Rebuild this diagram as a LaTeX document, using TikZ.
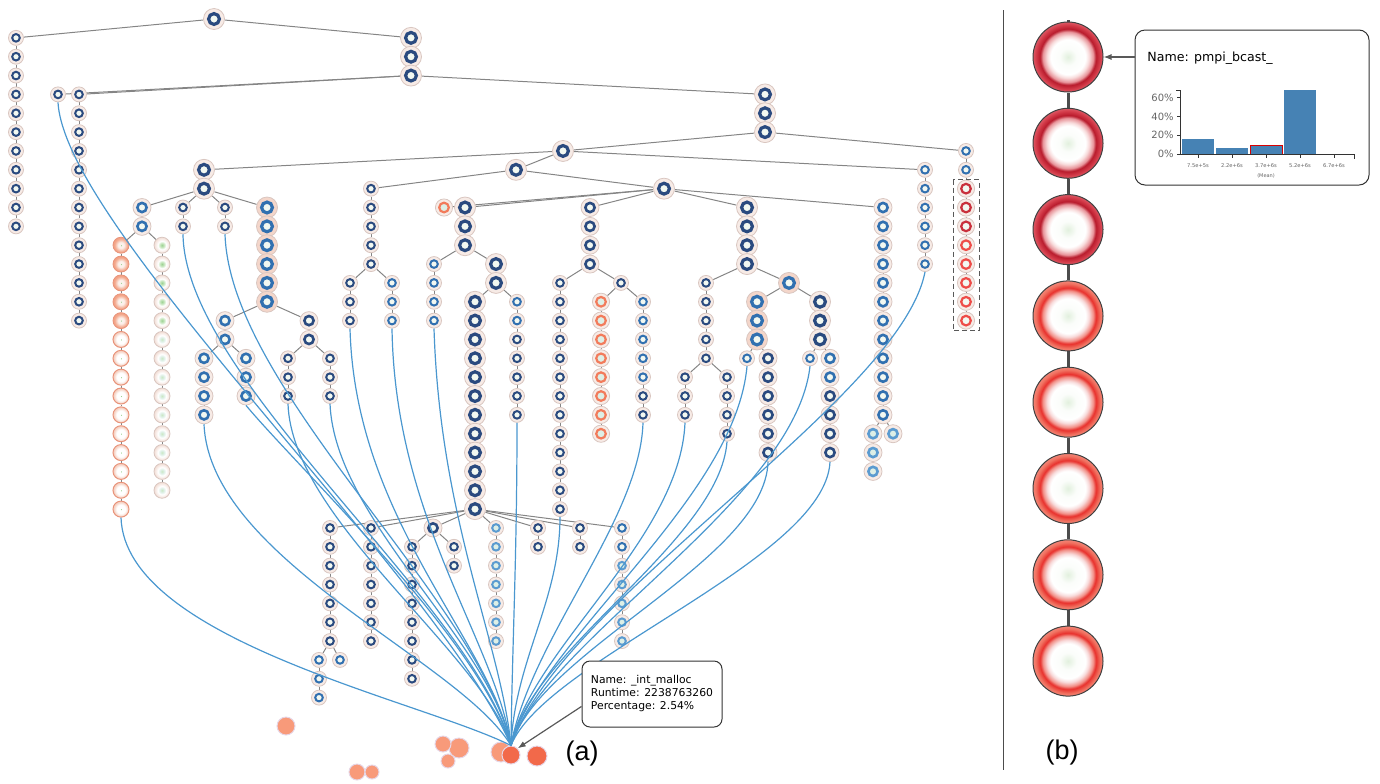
\documentclass[tikz,border=0pt]{standalone}
\usepackage{fontspec}
\setmainfont{DejaVu Sans}
\newfontfamily\lblfont{Liberation Sans}
\usetikzlibrary{arrows.meta}
\pgfdeclarelayer{back}
\pgfsetlayers{back,main}

% colours
\definecolor{navy}{HTML}{2A4A7F}
\definecolor{ringblue}{HTML}{3170B0}
\definecolor{ringlight}{HTML}{5B9BD0}
\definecolor{halo}{HTML}{F7EBE6}
\definecolor{haloline}{HTML}{D9C6C0}
\definecolor{halohot}{HTML}{F4D6CA}
\definecolor{core}{HTML}{F2F8F1}
\definecolor{corelight}{HTML}{DDEFE6}
\definecolor{ringorange}{HTML}{F27B5B}
\definecolor{reddark}{HTML}{C9303C}
\definecolor{redlite}{HTML}{EE4C48}
\definecolor{callblue}{HTML}{4A97CF}
\definecolor{edgegray}{HTML}{858585}
\definecolor{leaf}{HTML}{F89A7A}
\definecolor{leafhot}{HTML}{F2694A}
\definecolor{leafline}{HTML}{E6D6E6}
\definecolor{barblue}{HTML}{4682B4}
\definecolor{axisgray}{HTML}{666666}
\definecolor{gcore}{HTML}{9CD292}
\definecolor{ohring}{HTML}{F3A386}
\definecolor{ohin}{HTML}{FBF1EC}
\definecolor{ohedge}{HTML}{E8937A}
\definecolor{oplrim}{HTML}{F6D3C5}
\definecolor{gpmid}{HTML}{CBE8C3}
\definecolor{gprim}{HTML}{F2DDD4}
\definecolor{bctr}{HTML}{E2F0DE}
\definecolor{bpink}{HTML}{F8DCDC}
\definecolor{dkring}{HTML}{B81B2C}
\definecolor{dkmid}{HTML}{E8949A}
\definecolor{dkrim}{HTML}{D43C4A}
\definecolor{ltring}{HTML}{E8302C}
\definecolor{ltmid}{HTML}{F29088}
\definecolor{ltrim}{HTML}{F0705F}

% shadings
\pgfdeclareradialshading{ohotshade}{\pgfpoint{0bp}{0bp}}{color(0bp)=(gcore); color(3bp)=(ohin); color(9bp)=(ohin); color(21bp)=(ohring); color(25bp)=(ohring); color(50bp)=(ohring)}
\pgfdeclareradialshading{opaleshade}{\pgfpoint{0bp}{0bp}}{color(0bp)=(gcore); color(3bp)=(white); color(14bp)=(white); color(22bp)=(oplrim); color(25bp)=(oplrim); color(50bp)=(oplrim)}
\pgfdeclareradialshading{ggreenshade}{\pgfpoint{0bp}{0bp}}{color(0bp)=(gcore); color(7bp)=(gpmid); color(13bp)=(white); color(20bp)=(halo); color(25bp)=(gprim); color(50bp)=(gprim)}
\pgfdeclareradialshading{gpaleshade}{\pgfpoint{0bp}{0bp}}{color(0bp)=(gpmid); color(6bp)=(corelight); color(13bp)=(white); color(20bp)=(halo); color(25bp)=(gprim); color(50bp)=(gprim)}
\pgfdeclareradialshading{bigdark}{\pgfpoint{0bp}{0bp}}{color(0bp)=(bctr); color(6bp)=(white!85!bctr); color(12.5bp)=(white); color(15bp)=(bpink); color(18bp)=(dkmid); color(20bp)=(dkring); color(23bp)=(dkrim); color(25bp)=(dkrim!85!white); color(50bp)=(dkrim!85!white)}
\pgfdeclareradialshading{biglight}{\pgfpoint{0bp}{0bp}}{color(0bp)=(bctr); color(6bp)=(white!85!bctr); color(12.5bp)=(white); color(15bp)=(bpink); color(18bp)=(ltmid); color(20bp)=(ltring); color(23bp)=(ltrim); color(25bp)=(ltrim!85!white); color(50bp)=(ltrim!85!white)}

\tikzset{
  ringnode/.style n args={6}{circle, inner sep=0pt, minimum size=#4, fill=#6, draw=haloline, line width=0.4pt,
    path picture={\filldraw[draw=#3, fill=#5, line width=#2] (path picture bounding box.center) circle[radius=#1/2];}},
  snav/.style={ringnode={3.8pt}{1pt}{navy}{7.5pt}{core}{halo}},
  sblu/.style={ringnode={3.8pt}{1pt}{ringblue}{7.5pt}{core}{halo}},
  slbl/.style={ringnode={3.8pt}{1pt}{ringlight}{7.5pt}{corelight}{halo}},
  mnav/.style={ringnode={4.6pt}{1.3pt}{navy}{9pt}{core}{halo}},
  mblu/.style={ringnode={4.6pt}{1.3pt}{ringblue}{9pt}{core}{halo}},
  mlbl/.style={ringnode={4.6pt}{1.3pt}{ringlight}{9pt}{corelight}{halo}},
  bnav/.style={ringnode={5.4pt}{1.6pt}{navy}{10.5pt}{core}{halo}},
  bblu/.style={ringnode={5.4pt}{1.6pt}{ringblue}{10.5pt}{core}{halohot}},
  oring/.style={ringnode={4.8pt}{1.1pt}{ringorange}{8.6pt}{corelight}{halo}},
  rdark/.style={ringnode={4.8pt}{1.1pt}{reddark}{8.6pt}{core}{halo}},
  rlite/.style={ringnode={4.8pt}{1.1pt}{redlite}{8.6pt}{core}{halo}},
  ohot/.style={circle, inner sep=0pt, minimum size=8pt, shade, shading=ohotshade, draw=ohedge, line width=0.4pt},
  opale/.style={circle, inner sep=0pt, minimum size=8pt, shade, shading=opaleshade, draw=ohedge, line width=0.5pt},
  ggreen/.style={circle, inner sep=0pt, minimum size=8pt, shade, shading=ggreenshade, draw=haloline, line width=0.4pt},
  gpale/.style={circle, inner sep=0pt, minimum size=8pt, shade, shading=gpaleshade, draw=haloline, line width=0.4pt},
  link/.style={draw=edgegray, line width=0.5pt},
  call/.style={draw=callblue, line width=0.6pt},
  leafnode/.style={circle, inner sep=0pt, minimum size=#1, fill=leaf, draw=leafline, line width=0.5pt},
  hotleaf/.style={leafnode=#1, fill=leafhot},
  tipbox/.style={draw=black!80, fill=white, rounded corners=4pt, line width=0.5pt},
  tiparrow/.style={draw=black!65, line width=0.6pt, -{Latex[length=4pt,width=3pt]}},
  bigring/.style={circle, inner sep=0pt, minimum size=35pt, shade, draw=black!75, line width=0.5pt},
  spine/.style={draw=black!70, line width=1.5pt},
  histaxis/.style={draw=black!80, line width=0.5pt},
  histlbl/.style={text=axisgray, inner sep=0pt},
  selbox/.style={draw=black!65, line width=0.5pt, dash pattern=on 2.5pt off 1.5pt},
}

% a column of nodes: name, x, first row, count, how many in style A, style A, style B
\newcommand\mixcol[7]{%
  \foreach \i in {1,...,#4}{%
    \ifnum\i>#5\relax
      \node[#7] (#1-\i) at (#2,{19+(#3+\i-1)*18.85}) {};
    \else
      \node[#6] (#1-\i) at (#2,{19+(#3+\i-1)*18.85}) {};
    \fi
  }%
  \ifnum#4>1\relax
    \begin{pgfonlayer}{back}
      \pgfmathtruncatemacro\lastlink{#4-1}%
      \foreach \i in {1,...,\lastlink}{%
        \pgfmathtruncatemacro\nexti{\i+1}%
        \draw[link] (#1-\i) -- (#1-\nexti);
      }%
    \end{pgfonlayer}
  \fi
}
\newcommand\nodecol[5]{\mixcol{#1}{#2}{#3}{#4}{#4}{#5}{#5}}

\begin{document}
\begin{tikzpicture}[x=0.5pt, y=-0.5pt]
\useasboundingbox (0,0) rectangle (1380,783);

% (a) call tree
\nodecol{root}{214}{0}{1}{bnav}
\nodecol{la}{16}{1}{11}{snav}
\nodecol{ra}{411}{1}{3}{bnav}
\nodecol{lx}{58}{4}{1}{snav}
\nodecol{lc}{79}{4}{13}{snav}
\nodecol{rb}{765}{4}{3}{bnav}
\nodecol{ma}{563}{7}{1}{bnav}
\nodecol{ea}{966}{7}{2}{sblu}
\mixcol{eb}{966}{9}{8}{3}{rdark}{rlite}
\nodecol{ec}{925}{8}{6}{sblu}
\nodecol{pa}{204}{8}{2}{bnav}
\nodecol{pb}{142}{10}{2}{mblu}
\mixcol{pc}{121}{12}{15}{5}{ohot}{opale}
\mixcol{pd}{162}{12}{14}{5}{ggreen}{gpale}
\nodecol{pe}{183}{10}{2}{snav}
\nodecol{pf}{225}{10}{2}{snav}
\nodecol{pg}{267}{10}{6}{bblu}
\nodecol{ph}{225}{16}{2}{mblu}
\nodecol{pi}{204}{18}{4}{mblu}
\nodecol{pj}{246}{18}{3}{mblu}
\nodecol{pk}{309}{16}{2}{mnav}
\nodecol{pl}{288}{18}{3}{snav}
\nodecol{pm}{330}{18}{3}{snav}
\nodecol{qa}{516}{8}{1}{bnav}
\nodecol{qb}{371}{9}{5}{snav}
\nodecol{qc}{350}{14}{3}{snav}
\nodecol{qd}{392}{14}{3}{sblu}
\nodecol{qe}{664}{9}{1}{bnav}
\nodecol{qf}{444}{10}{1}{oring}
\nodecol{qg}{465}{10}{3}{bnav}
\nodecol{qh}{434}{13}{4}{sblu}
\nodecol{qi}{496}{13}{2}{bnav}
\nodecol{qj}{475}{15}{12}{bnav}
\mixcol{qk}{517}{15}{7}{2}{sblu}{snav}
\nodecol{ql}{590}{10}{4}{mnav}
\nodecol{qm}{560}{14}{13}{snav}
\nodecol{qn}{621}{14}{1}{snav}
\nodecol{qo}{601}{15}{8}{oring}
\mixcol{qp}{643}{15}{7}{5}{sblu}{snav}
\nodecol{qq}{747}{10}{4}{bnav}
\nodecol{qr}{706}{14}{5}{snav}
\nodecol{qs}{685}{19}{3}{snav}
\nodecol{qt}{727}{19}{4}{snav}
\nodecol{qu}{789}{14}{1}{bblu}
\nodecol{qv}{757}{15}{3}{bblu}
\nodecol{qw}{747}{18}{1}{sblu}
\nodecol{qx}{768}{18}{6}{mnav}
\nodecol{qy}{820}{15}{3}{bnav}
\nodecol{qz}{810}{18}{1}{sblu}
\mixcol{sa}{830}{18}{6}{2}{mblu}{mnav}
\nodecol{sb}{883}{10}{12}{mblu}
\nodecol{sc}{873}{22}{3}{mlbl}
\nodecol{sd}{893}{22}{1}{mlbl}
% lower group
\nodecol{ba}{330}{27}{7}{snav}
\nodecol{bb}{319}{34}{3}{sblu}
\nodecol{bc}{340}{34}{1}{sblu}
\nodecol{bd}{371}{27}{7}{snav}
\nodecol{be}{433}{27}{1}{mnav}
\nodecol{bf}{412}{28}{8}{snav}
\nodecol{bh}{454}{28}{2}{snav}
\nodecol{bi}{496}{27}{7}{slbl}
\nodecol{bj}{538}{27}{2}{snav}
\nodecol{bk}{580}{27}{2}{snav}
\mixcol{bl}{622}{27}{7}{2}{sblu}{slbl}

% selected chain
\draw[selbox] ([shift={(-13,-9)}]eb-1.center) rectangle ([shift={(13,10)}]eb-8.center);

\begin{pgfonlayer}{back}
\foreach \p/\c in {root-1/la-1, root-1/ra-1, ra-3/lx-1, ra-3/lc-1, ra-3/rb-1,
    rb-3/ma-1, rb-3/ea-1, ea-2/eb-1, ma-1/pa-1, ma-1/qa-1, ma-1/ec-1,
    pa-2/pb-1, pa-2/pe-1, pa-2/pf-1, pa-2/pg-1, pb-2/pc-1, pb-2/pd-1,
    pg-6/ph-1, pg-6/pk-1, ph-2/pi-1, ph-2/pj-1, pk-2/pl-1, pk-2/pm-1,
    qa-1/qb-1, qa-1/qe-1, qb-5/qc-1, qb-5/qd-1,
    qe-1/qf-1, qe-1/qg-1, qe-1/ql-1, qe-1/qq-1, qe-1/sb-1,
    qg-3/qh-1, qg-3/qi-1, qi-2/qj-1, qi-2/qk-1,
    ql-4/qm-1, ql-4/qn-1, qn-1/qo-1, qn-1/qp-1,
    qq-4/qr-1, qq-4/qu-1, qr-5/qs-1, qr-5/qt-1, qu-1/qv-1, qu-1/qy-1,
    qv-3/qw-1, qv-3/qx-1, qy-3/qz-1, qy-3/sa-1, sb-12/sc-1, sb-12/sd-1,
    qj-12/ba-1, qj-12/bd-1, qj-12/be-1, qj-12/bi-1, qj-12/bj-1, qj-12/bk-1, qj-12/bl-1,
    ba-7/bb-1, ba-7/bc-1, be-1/bf-1, be-1/bh-1}
  \draw[link] (\p) -- (\c);
\end{pgfonlayer}

% leaves at the bottom
\node[leafnode=9pt] (lf1) at (286,726) {};
\node[leafnode=10pt] (lf3) at (459,748) {};
\node[leafnode=8pt] (lf2) at (443,744) {};
\node[leafnode=7pt] (lf4) at (448,761) {};
\node[leafnode=8pt] (lf5) at (357,772) {};
\node[leafnode=7pt] (lf6) at (372,772) {};
\node[leafnode=10pt] (lf7) at (501,752) {};
\node[hotleaf=9pt] (hot) at (511,755) {};
\node[hotleaf=10pt] (lf8) at (537,756) {};
\coordinate (tgt) at (hot.north);

% calls into _int_malloc
\foreach \s/\ax/\ay/\bx/\by in {pc-15/125/640/420/700, lx-1/65/230/440/580,
    pe-2/185/380/470/600, pf-2/230/390/480/600, pi-4/210/560/460/660,
    pj-3/300/470/480/640, pl-3/292/520/480/650, pm-3/335/520/490/640,
    qc-3/355/520/490/640, qd-3/395/520/495/640, qh-4/440/520/500/640,
    qk-7/517/560/512/650, qm-13/560/600/515/660, qp-7/640/520/530/640,
    qs-3/680/540/530/650, qt-4/720/540/530/650, qw-1/735/500/540/640,
    qx-6/765/560/540/650, qz-1/795/500/545/640, sa-6/825/560/545/660,
    ec-6/900/400/560/600}
  \draw[call] (\s.south) .. controls (\ax,\ay) and (\bx,\by) .. (tgt);

% tooltip (a)
\node[tipbox, minimum width=70pt, minimum height=33pt, inner xsep=4pt,
  align=left, font=\fontsize{5.4pt}{6.5pt}\selectfont] (tipa) at (652,694)
  {Name: \_int\_malloc\\Runtime: 2238763260\\Percentage: 2.54\%};
\draw[tiparrow] (tipa.190) -- (hot.north east);
\node[font=\lblfont\fontsize{13.5pt}{14pt}\selectfont] (labela) at (582,753) {(a)};

% divider
\draw[draw=black!70, line width=0.5pt] (1003,10) -- (1003,770);

% (b) chain of pmpi_bcast_
\foreach \i in {1,...,8}{
  \ifnum\i<4
    \node[bigring, shading=bigdark] (bn-\i) at (1068,{57+(\i-1)*86.3}) {};
  \else
    \node[bigring, shading=biglight] (bn-\i) at (1068,{57+(\i-1)*86.3}) {};
  \fi
}
\coordinate (btop) at (1068,20);
\begin{pgfonlayer}{back}
  \draw[spine] (btop) -- (bn-1);
  \foreach \i [count=\j from 2] in {1,...,7}
    \draw[spine] (bn-\i) -- (bn-\j);
\end{pgfonlayer}
\node[font=\lblfont\fontsize{13.5pt}{14pt}\selectfont] (labelb) at (1062,752) {(b)};

% tooltip (b) with histogram
\node[tipbox, rounded corners=5pt, minimum width=117pt, minimum height=77.5pt] (tipb) at (1252,107.5) {};
\draw[tiparrow] (tipb.west |- bn-1.east) -- (bn-1.east);
\node[anchor=west, inner sep=0pt, font=\fontsize{6.3pt}{7pt}\selectfont] (tiptitle) at (1147,58) {Name: pmpi\_bcast\_};

\fill[barblue] (1182,154) rectangle (1214,139);
\fill[barblue] (1216,154) rectangle (1248,148);
\filldraw[fill=barblue, draw=red!85!black, line width=0.5pt] (1250,154) rectangle (1282,145.5);
\fill[barblue] (1284,154) rectangle (1316,90);
\draw[histaxis] (1176,90) -- (1180,90) -- (1180,154) -- (1354,154) -- (1354,159);
\foreach \v/\t in {0/0\%, 20/20\%, 40/40\%, 60/60\%}{
  \draw[histaxis] (1177,{154-0.935*\v}) -- (1180,{154-0.935*\v});
  \node[histlbl, anchor=east, font=\fontsize{5pt}{6pt}\selectfont] at (1174,{154-0.935*\v}) {\t};
}
\foreach \x/\t in {1198/7.5e+5s, 1232/2.2e+6s, 1266/3.7e+6s, 1300/5.2e+6s, 1334/6.7e+6s}{
  \draw[histaxis] (\x,154) -- (\x,158);
  \node[histlbl, font=\fontsize{2.6pt}{3pt}\selectfont] at (\x,166) {\t};
}
\node[histlbl, font=\fontsize{2.5pt}{3pt}\selectfont] (meanlbl) at (1266,176) {(Mean)};
\end{tikzpicture}
\end{document}
